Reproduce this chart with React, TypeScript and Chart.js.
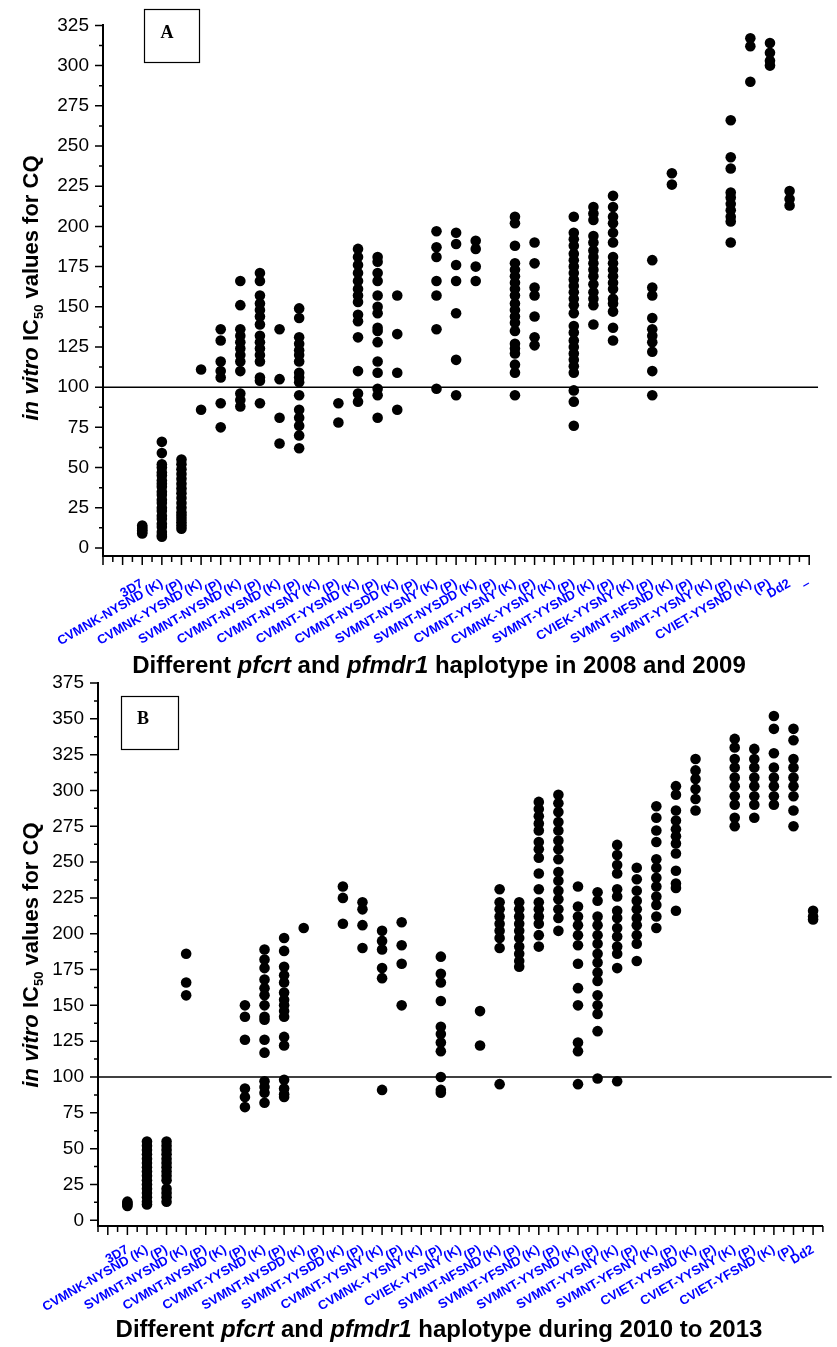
import React, { useEffect, useRef } from 'react';
import { Chart, registerables } from 'chart.js';
Chart.register(...registerables);

const SANS = "'Liberation Sans', Arial, sans-serif";
const SERIF = "'Liberation Serif', 'Times New Roman', serif";

// ---------------- Panel A (2008 and 2009) ----------------
const labelsA = [
  '3D7', 'CVMNK-NYSND (K)', '(P)', 'CVMNK-YYSND (K)', '(P)', 'SVMNT-NYSND (K)', '(P)',
  'CVMNT-NYSND (K)', '(P)', 'CVMNT-NYSNY (K)', '(P)', 'CVMNT-YYSND (K)', '(P)',
  'CVMNT-NYSDD (K)', '(P)', 'SVMNT-NYSNY (K)', '(P)', 'SVMNT-NYSDD (K)', '(P)',
  'CVMNT-YYSNY (K)', '(P)', 'CVMNK-YYSNY (K)', '(P)', 'SVMNT-YYSND (K)', '(P)',
  'CVIEK-YYSNY (K)', '(P)', 'SVMNT-NFSND (K)', '(P)', 'SVMNT-YYSNY (K)', '(P)',
  'CVIET-YYSND (K)', '(P)', 'Dd2', '–',
];
const valuesA: number[][] = [
  [9, 10, 11, 12, 13, 14],
  [66, 59, 52, 50, 47, 45, 42, 40, 38, 35, 33, 30, 28, 25, 23, 20, 18, 15, 13, 10, 8, 7],
  [55, 52, 49, 46, 43, 40, 37, 34, 31, 28, 25, 22, 20, 18, 16, 14, 12],
  [111, 86],
  [136, 129, 116, 110, 106, 90, 75],
  [166, 151, 136, 132, 128, 124, 120, 116, 110, 96, 92, 88],
  [171, 166, 157, 152, 148, 144, 139, 132, 128, 124, 120, 116, 106, 104, 90],
  [136, 105, 81, 65],
  [149, 143, 131, 127, 123, 120, 116, 109, 106, 103, 95, 86, 81, 76, 70, 62],
  [],
  [90, 78],
  [186, 181, 176, 171, 166, 161, 157, 153, 145, 141, 131, 110, 96, 91],
  [181, 178, 171, 166, 157, 150, 146, 137, 135, 128, 116, 109, 99, 95, 81],
  [157, 133, 109, 86],
  [],
  [197, 187, 181, 166, 157, 136, 99],
  [196, 189, 176, 166, 146, 117, 95],
  [191, 186, 175, 166],
  [],
  [206, 202, 188, 177, 173, 169, 165, 161, 157, 152, 148, 144, 140, 135, 127, 124, 121, 114, 109, 95],
  [190, 177, 162, 157, 144, 131, 126],
  [],
  [206, 196, 192, 188, 183, 179, 175, 171, 167, 163, 159, 155, 151, 146, 138, 134, 129, 125, 121, 117, 113, 109, 98, 91, 76],
  [212, 208, 204, 194, 190, 185, 181, 177, 173, 169, 164, 159, 155, 151, 139],
  [219, 212, 206, 202, 196, 190, 181, 177, 173, 169, 165, 161, 155, 152, 147, 137, 129],
  [],
  [179, 162, 157, 143, 136, 132, 128, 122, 110, 95],
  [233, 226],
  [],
  [],
  [266, 243, 236, 221, 218, 214, 210, 206, 203, 190],
  [317, 312, 290],
  [314, 308, 303, 300],
  [222, 217, 213],
  [],
];
const yTickLabelsA = [0, 25, 50, 75, 100, 125, 150, 175, 200, 225, 250, 275, 300, 325];

// ---------------- Panel B (2010 to 2013) ----------------
const labelsB = [
  '3D7', 'CVMNK-NYSND (K)', '(P)', 'SVMNT-NYSND (K)', '(P)', 'CVMNT-NYSND (K)', '(P)',
  'CVMNT-YYSND (K)', '(P)', 'SVMNT-NYSDD (K)', '(P)', 'SVMNT-YYSDD (K)', '(P)',
  'CVMNT-YYSNY (K)', '(P)', 'CVMNK-YYSNY (K)', '(P)', 'CVIEK-YYSNY (K)', '(P)',
  'SVMNT-NFSND (K)', '(P)', 'SVMNT-YFSND (K)', '(P)', 'SVMNT-YYSND (K)', '(P)',
  'SVMNT-YYSNY (K)', '(P)', 'SVMNT-YFSNY (K)', '(P)', 'CVIET-YYSND (K)', '(P)',
  'CVIET-YYSNY (K)', '(P)', 'CVIET-YFSND (K)', '(P)', 'Dd2',
];
const valuesB: number[][] = [
  [10, 11, 12, 13],
  [55, 52, 49, 46, 43, 40, 37, 34, 31, 28, 25, 22, 19, 16, 13, 11],
  [55, 52, 49, 46, 43, 40, 37, 34, 31, 28, 22, 19, 16, 13],
  [186, 166, 157],
  [],
  [],
  [150, 142, 126, 92, 86, 79],
  [189, 182, 176, 168, 162, 157, 150, 142, 140, 126, 117, 97, 93, 89, 82],
  [197, 188, 177, 171, 166, 159, 154, 150, 146, 142, 128, 122, 98, 92, 88, 86],
  [204],
  [],
  [233, 225, 207],
  [222, 217, 206, 190],
  [202, 195, 189, 176, 169, 91],
  [208, 192, 179, 150],
  [],
  [184, 172, 166, 153, 135, 130, 124, 118, 100, 91, 89],
  [],
  [146, 122],
  [231, 222, 217, 212, 207, 202, 197, 190, 95],
  [222, 217, 212, 207, 202, 197, 191, 186, 181, 177],
  [292, 287, 282, 277, 272, 264, 259, 253, 242, 231, 222, 217, 212, 207, 199, 191],
  [297, 291, 285, 278, 272, 265, 259, 252, 243, 237, 230, 224, 217, 211, 202],
  [233, 219, 212, 206, 199, 192, 179, 162, 150, 124, 118, 95],
  [229, 223, 212, 206, 199, 193, 186, 180, 173, 167, 157, 150, 144, 132, 99],
  [262, 255, 248, 242, 231, 226, 216, 211, 204, 198, 191, 186, 176, 97],
  [246, 238, 230, 223, 217, 211, 206, 199, 193, 181],
  [289, 281, 272, 264, 252, 246, 239, 233, 226, 220, 212, 204],
  [303, 297, 286, 279, 273, 268, 263, 256, 244, 235, 232, 216],
  [322, 314, 308, 301, 294, 286],
  [],
  [336, 330, 322, 316, 309, 303, 296, 290, 281, 275],
  [329, 322, 316, 309, 303, 296, 290, 281],
  [352, 343, 326, 316, 309, 303, 296, 290],
  [343, 335, 322, 316, 309, 303, 296, 286, 275],
  [216, 212, 210],
];
const yTickLabelsB = [0, 25, 50, 75, 100, 125, 150, 175, 200, 225, 250, 275, 300, 325, 350, 375];

const thresholdValue = 100;
const xTitleA: [string, boolean][] = [['Different ', false], ['pfcrt', true], [' and ', false], ['pfmdr1', true], [' haplotype in 2008 and 2009', false]];
const xTitleB: [string, boolean][] = [['Different ', false], ['pfcrt', true], [' and ', false], ['pfmdr1', true], [' haplotype during 2010 to 2013', false]];

type PanelCfg = {
  labels: string[]; values: number[][]; yLabels: number[];
  xMin: number; xMax: number; yMin: number; yMax: number; lineEnd: number;
  canvasTop: number; height: number; top: number; left: number; right: number; bottom: number;
  tickPad: number;
  box: { x: number; y: number; w: number; h: number; letter: string; lx: number; ly: number };
  xTitle: [string, boolean][]; xTitleCx: number; xTitleBase: number;
  yTitleBase: number; yTitleCy: number;
};

const W = 837;

const panelA: PanelCfg = {
  labels: labelsA, values: valuesA, yLabels: yTickLabelsA,
  xMin: -2, xMax: 34, yMin: -5, yMax: 325, lineEnd: 34.45,
  canvasTop: 0, height: 690, top: 20, left: 103, right: 827, bottom: 556,
  tickPad: 20,
  box: { x: 144, y: 9, w: 55, h: 53, letter: 'A', lx: 167, ly: 33 },
  xTitle: xTitleA, xTitleCx: 439, xTitleBase: 673,
  yTitleBase: 38, yTitleCy: 288,
};

const panelB: PanelCfg = {
  labels: labelsB, values: valuesB, yLabels: yTickLabelsB,
  xMin: -1.5, xMax: 35.5, yMin: -4, yMax: 375, lineEnd: 35.95,
  canvasTop: 640, height: 707, top: 43, left: 98, right: 828, bottom: 586,
  tickPad: 16,
  box: { x: 121, y: 56, w: 57, h: 53, letter: 'B', lx: 143, ly: 79 },
  xTitle: xTitleB, xTitleCx: 439, xTitleBase: 697,
  yTitleBase: 38, yTitleCy: 315,
};

function drawParts(ctx: CanvasRenderingContext2D, parts: { t: string; font: string; dy: number }[], cx: number, base: number) {
  let total = 0;
  const widths = parts.map((p) => { ctx.font = p.font; const w = ctx.measureText(p.t).width; total += w; return w; });
  let x = cx - total / 2;
  parts.forEach((p, i) => { ctx.font = p.font; ctx.fillText(p.t, x, base + p.dy); x += widths[i]; });
}

const decorPlugin = {
  id: 'decor',
  afterDraw(chart: any, _args: any, o: any) {
    const ctx: CanvasRenderingContext2D = chart.ctx;
    const a = chart.chartArea;
    const xs = chart.scales.x;
    const ys = chart.scales.y;
    const p: PanelCfg = o.panel;
    ctx.save();
    ctx.strokeStyle = '#000';
    ctx.lineWidth = 1.5;
    ctx.beginPath();
    for (let i = 0; ; i++) {
      const v = p.xMin + i * 0.5;
      if (v > p.xMax + 1e-6) break;
      const px = xs.getPixelForValue(v);
      const major = Math.abs(v - Math.round(v)) < 1e-6;
      ctx.moveTo(px, a.bottom);
      ctx.lineTo(px, a.bottom + (major ? 9 : 6));
    }
    for (let i = 0; ; i++) {
      const v = i * 12.5;
      if (v > p.yMax + 1e-6) break;
      const py = ys.getPixelForValue(v);
      ctx.moveTo(a.left, py);
      ctx.lineTo(a.left - (i % 2 === 0 ? 8 : 4), py);
    }
    ctx.stroke();

    // panel letter box
    ctx.lineWidth = 1.2;
    ctx.strokeRect(p.box.x + 0.5, p.box.y + 0.5, p.box.w, p.box.h);
    ctx.fillStyle = '#000';
    ctx.font = `bold 18px ${SERIF}`;
    ctx.textAlign = 'center';
    ctx.textBaseline = 'middle';
    ctx.fillText(p.box.letter, p.box.lx, p.box.ly);

    // x-axis title
    ctx.textAlign = 'left';
    ctx.textBaseline = 'alphabetic';
    drawParts(ctx, p.xTitle.map(([t, it]) => ({ t, font: `${it ? 'italic ' : ''}bold 24px ${SANS}`, dy: 0 })), p.xTitleCx, p.xTitleBase);

    // y-axis title
    ctx.save();
    ctx.translate(p.yTitleBase, p.yTitleCy);
    ctx.rotate(-Math.PI / 2);
    drawParts(ctx, [
      { t: 'in vitro', font: `italic bold 22px ${SANS}`, dy: 0 },
      { t: ' IC', font: `bold 22px ${SANS}`, dy: 0 },
      { t: '50', font: `bold 13px ${SANS}`, dy: 5 },
      { t: ' values for CQ', font: `bold 22px ${SANS}`, dy: 0 },
    ], 0, 0);
    ctx.restore();
    ctx.restore();
  },
};

function makeChart(canvas: HTMLCanvasElement, p: PanelCfg) {
  const pts = p.values.flatMap((vals, i) => vals.map((v) => ({ x: i, y: v })));
  return new Chart(canvas, {
    type: 'scatter',
    data: {
      datasets: [
        {
          type: 'line',
          data: [{ x: p.xMin, y: thresholdValue }, { x: p.lineEnd, y: thresholdValue }],
          borderColor: '#000', borderWidth: 1.5, pointRadius: 0, clip: false as any, order: 2,
        } as any,
        {
          type: 'scatter',
          data: pts,
          backgroundColor: '#000', borderWidth: 0, pointRadius: 5.3, pointHoverRadius: 5.3, order: 1,
        } as any,
      ],
    },
    options: {
      responsive: false,
      animation: false,
      devicePixelRatio: 1,
      events: [],
      layout: { padding: { top: p.top, right: W - p.right, left: 0, bottom: 0 } },
      plugins: {
        legend: { display: false },
        tooltip: { enabled: false },
        decor: { panel: p },
      } as any,
      scales: {
        x: {
          type: 'linear', position: 'bottom', min: p.xMin, max: p.xMax,
          grid: { display: false, drawTicks: false },
          border: { display: true, color: '#000', width: 2 },
          ticks: {
            autoSkip: false, minRotation: 30, maxRotation: 30, padding: p.tickPad,
            color: '#0000ff', font: { family: SANS, size: 13, weight: 'bold' },
            callback: (v: any) => p.labels[v as number] ?? '',
          },
          afterBuildTicks: (s: any) => { s.ticks = p.labels.map((_, i) => ({ value: i })); },
          afterFit: (s: any) => { s.height = p.height - p.bottom; },
        },
        y: {
          type: 'linear', min: p.yMin, max: p.yMax,
          grid: { display: false, drawTicks: false },
          border: { display: true, color: '#000', width: 2 },
          ticks: {
            padding: 14, color: '#000', font: { family: SANS, size: 19 },
            callback: (v: any) => String(v),
          },
          afterBuildTicks: (s: any) => { s.ticks = p.yLabels.map((v) => ({ value: v })); },
          afterFit: (s: any) => { s.width = p.left; },
        },
      },
    } as any,
    plugins: [decorPlugin as any],
  });
}

function Panel({ p }: { p: PanelCfg }) {
  const ref = useRef<HTMLCanvasElement | null>(null);
  useEffect(() => {
    if (!ref.current) return;
    const c = makeChart(ref.current, p);
    return () => c.destroy();
  }, [p]);
  return (
    <canvas
      ref={ref}
      width={W}
      height={p.height}
      style={{ position: 'absolute', left: 0, top: p.canvasTop, width: W, height: p.height, display: 'block' }}
    />
  );
}

export default function App() {
  return (
    <div style={{ position: 'absolute', left: 0, top: 0, width: W, height: 1347, background: '#fff', overflow: 'hidden' }}>
      <Panel p={panelA} />
      <Panel p={panelB} />
    </div>
  );
}
